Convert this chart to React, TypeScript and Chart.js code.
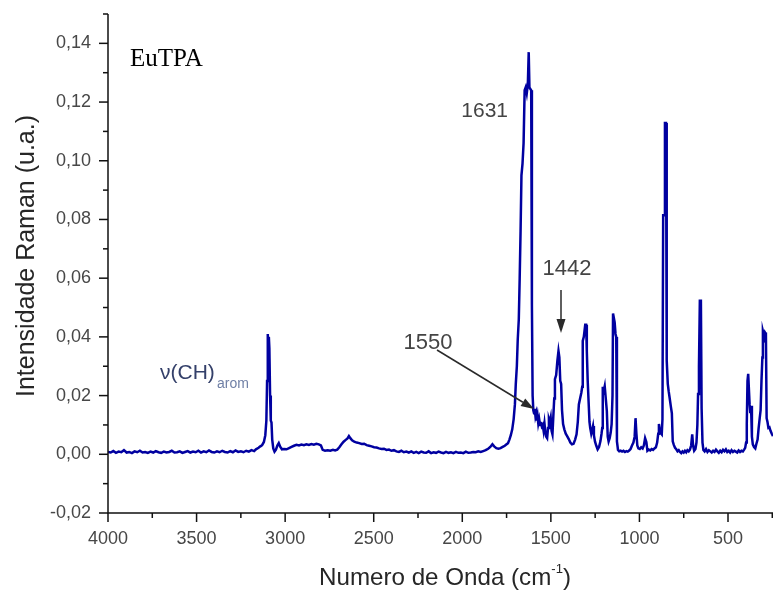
import React, { useEffect, useRef } from "react";
import { Chart, registerables } from "chart.js";

Chart.register(...registerables);

// ---------- axis configuration ----------
const X_MIN = 246;
const X_MAX = 4000;
const Y_MIN = -0.02;
const Y_MAX = 0.15;
const xMajorTicks = [4000, 3500, 3000, 2500, 2000, 1500, 1000, 500];
const xMinorTicks = [3750, 3250, 2750, 2250, 1750, 1250, 750, 250];
const yMajorTicks = [-0.02, 0, 0.02, 0.04, 0.06, 0.08, 0.1, 0.12, 0.14];
const yMinorTicks = [-0.01, 0.01, 0.03, 0.05, 0.07, 0.09, 0.11, 0.13, 0.15];

const sampleName = "EuTPA";
const yTitle = "Intensidade Raman (u.a.)";
const xTitleMain = "Numero de Onda (cm";
const xTitleSup = "-1";
const xTitleEnd = ")";

// ---------- spectrum [wavenumber cm-1, intensity] ----------
const regionHigh: [number, number][] = [
  [4000, 0.0008], [3985, 0.0006], [3970, 0.0011], [3955, 0.0005], [3940, 0.0009], [3925, 0.0007],
  [3910, 0.0014], [3895, 0.0006], [3880, 0.0008], [3865, 0.0004], [3850, 0.001], [3835, 0.0007],
  [3820, 0.0012], [3805, 0.0006], [3790, 0.0008], [3775, 0.0005], [3760, 0.0009], [3745, 0.0006],
  [3730, 0.0011], [3715, 0.0007], [3700, 0.0005], [3685, 0.0009], [3670, 0.0006], [3655, 0.0008],
  [3640, 0.0012], [3625, 0.0006], [3610, 0.0007], [3595, 0.001], [3580, 0.0005], [3565, 0.0008],
  [3550, 0.0011], [3535, 0.0006], [3520, 0.0009], [3505, 0.0007], [3490, 0.0012], [3475, 0.0006],
  [3460, 0.001], [3445, 0.0007], [3430, 0.0013], [3415, 0.0008], [3400, 0.0006], [3385, 0.001],
  [3370, 0.0007], [3355, 0.0012], [3340, 0.0008], [3325, 0.0006], [3310, 0.0011], [3295, 0.0007],
  [3280, 0.0013], [3265, 0.0008], [3250, 0.001], [3235, 0.0007], [3220, 0.0012], [3205, 0.0009],
  [3190, 0.0014], [3175, 0.0011], [3165, 0.0017],
];

const regionCH: [number, number][] = [
  [3150, 0.0022], [3140, 0.0027], [3130, 0.0031], [3120, 0.0042], [3112, 0.0065], [3106, 0.0115],
  [3102, 0.025], [3098, 0.041], [3095, 0.034], [3092, 0.04], [3089, 0.036], [3085, 0.02],
  [3081, 0.0115], [3077, 0.0108], [3073, 0.005], [3067, 0.002], [3060, 0.0009], [3052, 0.0016],
  [3044, 0.003], [3036, 0.0038], [3028, 0.0026], [3018, 0.0017], [3006, 0.0018], [2992, 0.0017],
  [2978, 0.0021], [2964, 0.0025], [2950, 0.0029], [2936, 0.0032], [2922, 0.003], [2908, 0.0033],
  [2894, 0.0031], [2880, 0.0034], [2866, 0.0032], [2852, 0.0035], [2838, 0.0033], [2824, 0.0036],
  [2810, 0.0034], [2798, 0.003], [2788, 0.0015], [2775, 0.0012], [2760, 0.0014], [2745, 0.0012],
  [2730, 0.0015], [2718, 0.0013], [2706, 0.0016],
];

const regionMid: [number, number][] = [
  [2694, 0.0024], [2682, 0.0034], [2670, 0.0043], [2658, 0.0049], [2648, 0.0054], [2640, 0.0062],
  [2632, 0.0055], [2622, 0.0048], [2610, 0.0043], [2596, 0.004], [2582, 0.0038], [2568, 0.0035],
  [2554, 0.0036], [2540, 0.0031], [2526, 0.0029], [2512, 0.0027], [2498, 0.0024], [2484, 0.0023],
  [2470, 0.002], [2456, 0.0018], [2442, 0.0019], [2428, 0.0015], [2414, 0.0016], [2400, 0.0012],
  [2386, 0.0014], [2372, 0.001], [2358, 0.0008], [2344, 0.0012], [2330, 0.0007], [2316, 0.0009],
  [2302, 0.0006], [2288, 0.001], [2274, 0.0005], [2260, 0.0008], [2246, 0.0004], [2232, 0.0009],
  [2218, 0.0006], [2204, 0.0005], [2190, 0.001], [2176, 0.0004], [2162, 0.0007], [2148, 0.0005],
  [2134, 0.0009], [2120, 0.0006], [2106, 0.0004], [2092, 0.0008], [2078, 0.0005], [2064, 0.0007],
  [2050, 0.0004], [2036, 0.0008], [2022, 0.0005], [2008, 0.0006], [1994, 0.0004], [1980, 0.0009],
  [1966, 0.0005], [1952, 0.0006], [1938, 0.0008], [1924, 0.0007], [1910, 0.001], [1896, 0.0008],
  [1882, 0.0011], [1868, 0.0014], [1854, 0.0019], [1842, 0.0025], [1830, 0.0034], [1820, 0.0027],
  [1808, 0.0021], [1796, 0.0019], [1784, 0.0021], [1772, 0.0025], [1760, 0.0029], [1750, 0.0034],
  [1742, 0.0038],
];

const regionMainPeak: [number, number][] = [
  [1734, 0.005], [1726, 0.0065], [1718, 0.0085], [1710, 0.012], [1703, 0.017], [1698, 0.024],
  [1692, 0.03], [1687, 0.039], [1681, 0.046], [1676, 0.06], [1671, 0.076], [1666, 0.095],
  [1660, 0.099], [1654, 0.106], [1648, 0.124], [1642, 0.125], [1636, 0.123], [1630, 0.126],
  [1625, 0.137], [1621, 0.125], [1616, 0.1245], [1611, 0.124], [1607, 0.051], [1603, 0.02],
  [1599, 0.015], [1595, 0.014], [1591, 0.0155], [1587, 0.013], [1583, 0.014], [1579, 0.0115],
  [1575, 0.013], [1571, 0.0105], [1566, 0.012], [1561, 0.01], [1556, 0.011], [1551, 0.0095],
  [1546, 0.01], [1541, 0.008], [1536, 0.0105], [1531, 0.0075], [1526, 0.006], [1521, 0.0055],
  [1516, 0.009], [1511, 0.012], [1506, 0.011], [1501, 0.0125], [1496, 0.008], [1491, 0.0068],
  [1486, 0.013],
];

const region1442: [number, number][] = [
  [1481, 0.019], [1477, 0.0256], [1470, 0.027], [1463, 0.032], [1457, 0.0352], [1452, 0.033],
  [1447, 0.025], [1442, 0.024], [1437, 0.015], [1431, 0.0103], [1424, 0.0085], [1416, 0.007],
  [1408, 0.0062], [1399, 0.0052], [1390, 0.004], [1381, 0.0034], [1372, 0.0036], [1363, 0.005],
  [1355, 0.0068], [1348, 0.011], [1342, 0.017], [1335, 0.019], [1328, 0.021], [1323, 0.023],
  [1320, 0.0386], [1314, 0.04], [1306, 0.0441], [1301, 0.0441], [1297, 0.0352], [1292, 0.025],
  [1287, 0.018], [1282, 0.011], [1278, 0.009], [1272, 0.007], [1266, 0.0085], [1262, 0.0096],
  [1257, 0.0065], [1251, 0.0044], [1244, 0.003], [1236, 0.0017], [1228, 0.0025], [1220, 0.0045],
  [1214, 0.007], [1210, 0.009], [1207, 0.023], [1202, 0.0215], [1196, 0.0232], [1190, 0.019],
  [1184, 0.0147], [1179, 0.006], [1174, 0.0044], [1168, 0.0055], [1162, 0.0075], [1157, 0.0103],
  [1152, 0.02], [1149, 0.048], [1145, 0.048], [1140, 0.045], [1135, 0.041], [1131, 0.04],
  [1127, 0.0044], [1121, 0.0015], [1114, 0.001],
];

const regionFingerprint: [number, number][] = [
  [1106, 0.0012], [1098, 0.0009], [1090, 0.0012], [1082, 0.0008], [1074, 0.0011], [1066, 0.0009],
  [1058, 0.0013], [1050, 0.0018], [1042, 0.003], [1034, 0.004], [1027, 0.006], [1022, 0.0123],
  [1017, 0.007], [1012, 0.003], [1006, 0.002], [998, 0.0018], [990, 0.0024], [982, 0.002],
  [975, 0.003], [968, 0.0055], [961, 0.0042], [955, 0.0012], [947, 0.0016], [939, 0.0013],
  [931, 0.0018], [923, 0.0015], [915, 0.002], [907, 0.0024], [900, 0.004], [894, 0.007],
  [890, 0.0103], [885, 0.0085], [879, 0.0072], [874, 0.0068], [870, 0.012], [866, 0.0814],
  [861, 0.0814], [856, 0.1129], [850, 0.1129], [846, 0.032], [840, 0.024], [835, 0.0215],
  [829, 0.019], [823, 0.0164], [817, 0.014], [812, 0.0044], [806, 0.0032], [799, 0.0022],
  [792, 0.0017], [785, 0.001], [778, 0.0014], [771, 0.0008], [764, 0.0004], [757, 0.001],
  [750, 0.0006], [743, 0.0012], [736, 0.0007], [729, 0.0014], [722, 0.001], [715, 0.0016],
];

const regionLow: [number, number][] = [
  [708, 0.003], [702, 0.0068], [697, 0.003], [691, 0.0012], [684, 0.0018], [678, 0.004],
  [673, 0.01], [669, 0.0205], [664, 0.03], [659, 0.0523], [653, 0.0523], [649, 0.0157],
  [644, 0.004], [639, 0.0015], [632, 0.001], [624, 0.0018], [616, 0.0008], [608, 0.0014],
  [600, 0.001], [592, 0.0006], [584, 0.0012], [576, 0.0008], [568, 0.0016], [560, 0.001],
  [552, 0.0005], [544, 0.0012], [536, 0.0007], [528, 0.0015], [520, 0.001], [512, 0.0017],
  [504, 0.0008], [496, 0.0012], [488, 0.0006], [480, 0.0014], [472, 0.0008], [464, 0.0012],
  [456, 0.0009], [448, 0.0006], [440, 0.0013], [432, 0.0008], [424, 0.0012], [416, 0.001],
  [409, 0.0016], [403, 0.0022], [398, 0.004], [394, 0.0103], [390, 0.025], [386, 0.0274],
  [382, 0.0274], [378, 0.017], [374, 0.014], [370, 0.0165], [365, 0.006], [360, 0.0034],
  [353, 0.0025], [346, 0.002], [340, 0.0035], [333, 0.005], [327, 0.009], [321, 0.0123],
  [316, 0.015], [311, 0.025], [306, 0.033], [303, 0.042], [299, 0.041], [295, 0.04],
  [291, 0.0415], [286, 0.041], [282, 0.0123], [277, 0.011], [272, 0.009], [266, 0.0092],
  [260, 0.008], [253, 0.007], [246, 0.0062],
];

const spectrum = [
  ...regionHigh, ...regionCH, ...regionMid, ...regionMainPeak,
  ...region1442, ...regionFingerprint, ...regionLow,
];

// ---------- annotations ----------
const peakLabels = ["1631", "1442", "1550"];
const chLabel = "\u03bd(CH)";
const chSub = "arom";

const SANS = "'Liberation Sans', Arial, Helvetica, sans-serif";
const SERIF = "'Liberation Serif', 'Times New Roman', serif";

type Run = { t: string; font: string; dy?: number; color?: string };

function drawRuns(
  ctx: CanvasRenderingContext2D,
  runs: Run[],
  x: number,
  y: number,
  align: "left" | "center" | "right",
  color: string,
  target?: number,
  baseline: CanvasTextBaseline = "middle"
) {
  const widths = runs.map((r) => {
    ctx.font = r.font;
    return ctx.measureText(r.t).width;
  });
  const W = widths.reduce((a, b) => a + b, 0);
  const s = target ? target / W : 1;
  const total = W * s;
  const x0 = align === "center" ? x - total / 2 : align === "right" ? x - total : x;
  ctx.save();
  ctx.translate(x0, y);
  ctx.scale(s, 1);
  ctx.textAlign = "left";
  ctx.textBaseline = baseline;
  let cx = 0;
  runs.forEach((r, i) => {
    ctx.font = r.font;
    ctx.fillStyle = r.color || color;
    ctx.fillText(r.t, cx, r.dy || 0);
    cx += widths[i];
  });
  ctx.restore();
}

function arrow(ctx: CanvasRenderingContext2D, x1: number, y1: number, x2: number, y2: number, len: number, half: number) {
  const ang = Math.atan2(y2 - y1, x2 - x1);
  const bx = x2 - Math.cos(ang) * len;
  const by = y2 - Math.sin(ang) * len;
  ctx.beginPath();
  ctx.moveTo(x1, y1);
  ctx.lineTo(bx, by);
  ctx.stroke();
  ctx.beginPath();
  ctx.moveTo(x2, y2);
  ctx.lineTo(bx + Math.cos(ang + Math.PI / 2) * half, by + Math.sin(ang + Math.PI / 2) * half);
  ctx.lineTo(bx + Math.cos(ang - Math.PI / 2) * half, by + Math.sin(ang - Math.PI / 2) * half);
  ctx.closePath();
  ctx.fill();
}

const fmt = (v: number) => (v < 0 ? "-" : "") + Math.abs(v).toFixed(2).replace(".", ",");

const decorPlugin = {
  id: "decor",
  afterDatasetsDraw(chart: any) {
    const { ctx, chartArea } = chart;
    const xs = chart.scales.x;
    const ys = chart.scales.y;
    const L = chartArea.left;
    const B = chartArea.bottom;
    ctx.save();
    ctx.strokeStyle = "#111";
    ctx.fillStyle = "#111";
    ctx.lineWidth = 1.5;
    // axes
    ctx.beginPath();
    ctx.moveTo(L, chartArea.top);
    ctx.lineTo(L, B);
    ctx.lineTo(chartArea.right, B);
    ctx.stroke();
    // y ticks
    yMajorTicks.forEach((v) => {
      const p = ys.getPixelForValue(v);
      ctx.beginPath();
      ctx.moveTo(L - 9, p);
      ctx.lineTo(L, p);
      ctx.stroke();
    });
    yMinorTicks.forEach((v) => {
      const p = ys.getPixelForValue(v);
      ctx.beginPath();
      ctx.moveTo(L - 5, p);
      ctx.lineTo(L, p);
      ctx.stroke();
    });
    // x ticks
    xMajorTicks.forEach((v) => {
      const p = xs.getPixelForValue(v);
      ctx.beginPath();
      ctx.moveTo(p, B);
      ctx.lineTo(p, B + 9);
      ctx.stroke();
    });
    xMinorTicks.forEach((v) => {
      const p = xs.getPixelForValue(v);
      ctx.beginPath();
      ctx.moveTo(p, B);
      ctx.lineTo(p, B + 5);
      ctx.stroke();
    });
    // tick labels
    const tickFont = `18px ${SANS}`;
    const tickColor = "#474747";
    yMajorTicks.forEach((v) => {
      drawRuns(ctx, [{ t: fmt(v), font: tickFont }], 91, ys.getPixelForValue(v), "right", tickColor);
    });
    xMajorTicks.forEach((v) => {
      drawRuns(ctx, [{ t: String(v), font: tickFont }], xs.getPixelForValue(v), B + 26, "center", tickColor);
    });
    // axis titles
    ctx.save();
    ctx.translate(34, 256);
    ctx.rotate(-Math.PI / 2);
    drawRuns(ctx, [{ t: yTitle, font: `26px ${SANS}` }], 0, 0, "center", "#262626", 282, "alphabetic");
    ctx.restore();
    drawRuns(
      ctx,
      [
        { t: xTitleMain, font: `24px ${SANS}` },
        { t: xTitleSup, font: `13px ${SANS}`, dy: -9 },
        { t: xTitleEnd, font: `24px ${SANS}` },
      ],
      445,
      578,
      "center",
      "#262626",
      252
    );
    // sample name
    drawRuns(ctx, [{ t: sampleName, font: `25px ${SERIF}` }], 130, 66, "left", "#000", undefined, "alphabetic");
    // peak labels
    drawRuns(ctx, [{ t: peakLabels[0], font: `21px ${SANS}` }], 508, 111, "right", "#444");
    drawRuns(ctx, [{ t: peakLabels[1], font: `22px ${SANS}` }], 567, 269, "center", "#444");
    drawRuns(ctx, [{ t: peakLabels[2], font: `22px ${SANS}` }], 428, 343, "center", "#444");
    drawRuns(
      ctx,
      [
        { t: chLabel, font: `21px ${SANS}`, color: "#34406a" },
        { t: " ", font: `8px ${SANS}` },
        { t: chSub, font: `14px ${SANS}`, dy: 11, color: "#7080a6" },
      ],
      160,
      373,
      "left",
      "#34406a"
    );
    // arrows
    ctx.strokeStyle = "#2a2a2a";
    ctx.fillStyle = "#2a2a2a";
    ctx.lineWidth = 1.5;
    arrow(ctx, 561, 290, 561, 333, 14, 4.5);
    arrow(ctx, 437, 350, 534, 409, 13, 4.5);
    ctx.restore();
  },
};

export default function App() {
  const ref = useRef<HTMLCanvasElement>(null);
  useEffect(() => {
    if (!ref.current) return;
    const chart = new Chart(ref.current, {
      type: "line",
      data: {
        datasets: [
          {
            data: spectrum.map(([x, y]) => ({ x, y })),
            borderColor: "#0000a0",
            borderWidth: 2.5,
            pointRadius: 0,
            tension: 0,
            fill: false,
          },
        ],
      },
      options: {
        animation: false,
        responsive: false,
        devicePixelRatio: 1,
        layout: { autoPadding: false, padding: { left: 108, top: 14, right: 0, bottom: 77 } },
        plugins: { legend: { display: false }, tooltip: { enabled: false } },
        scales: {
          x: { type: "linear", min: X_MIN, max: X_MAX, reverse: true, display: false },
          y: { type: "linear", min: Y_MIN, max: Y_MAX, display: false },
        },
      },
      plugins: [decorPlugin],
    } as any);
    return () => chart.destroy();
  }, []);
  return (
    <div style={{ position: "absolute", left: 0, top: 0, width: 773, height: 590, background: "#fff" }}>
      <canvas ref={ref} width={773} height={590} style={{ display: "block", width: 773, height: 590 }} />
    </div>
  );
}
